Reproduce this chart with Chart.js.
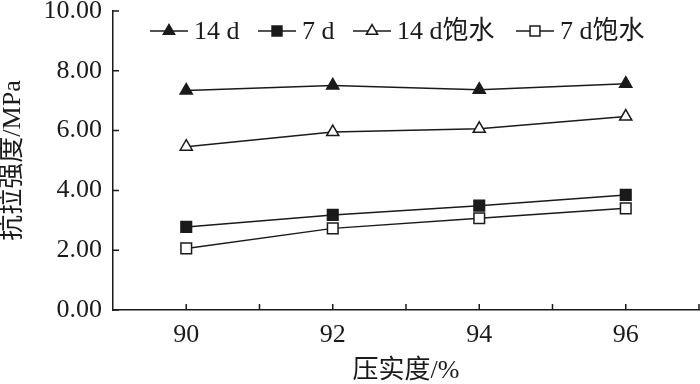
<!DOCTYPE html>
<html>
<head>
<meta charset="utf-8">
<script src="https://cdn.jsdelivr.net/npm/chart.js@4.4.0/dist/chart.umd.min.js"></script>
<style>
  html, body { margin: 0; padding: 0; background: #fff; }
  #wrap { width: 700px; height: 384px; }
</style>
</head>
<body>
<div id="wrap"><canvas id="chart"></canvas></div>
<script>
// 压实度 / 抗拉强度
const compaction = [90, 92, 94, 96];
const strength14d = [7.34, 7.51, 7.37, 7.57];
const strength7d = [2.78, 3.18, 3.49, 3.85];
const strength14dSat = [5.46, 5.95, 6.06, 6.47];
const strength7dSat = [2.06, 2.73, 3.07, 3.40];
const xLabels = [90, 92, 94, 96];

const ink = '#1a1a1a';
const fontFamily = "'Liberation Serif', 'Times New Roman', 'Noto Sans CJK SC', serif";

function points(values) {
  return compaction.map(function(x, i) { return { x: x, y: values[i] }; });
}

function series(label, values, style, filled) {
  return {
    label: label,
    data: points(values),
    borderColor: ink,
    borderWidth: 1.5,
    pointStyle: style,
    pointRadius: style === 'triangle' ? 7 : 7.5,
    pointBorderWidth: 1.5,
    pointBorderColor: ink,
    pointBackgroundColor: filled ? ink : '#fff',
    fill: false,
    tension: 0
  };
}

// legend drawn inside the plot, line + marker like the original
const legendX = [150, 258, 353, 516];
const innerLegend = {
  id: 'innerLegend',
  afterDraw(chart) {
    const ctx = chart.ctx;
    const y = 31;
    ctx.save();
    ctx.font = '26px ' + fontFamily;
    ctx.textBaseline = 'middle';
    chart.data.datasets.forEach(function(ds, i) {
      const x0 = legendX[i];
      ctx.strokeStyle = ink;
      ctx.lineWidth = 1.5;
      ctx.beginPath();
      ctx.moveTo(x0, y);
      ctx.lineTo(x0 + 38, y);
      ctx.stroke();
      ctx.fillStyle = ds.pointBackgroundColor;
      Chart.helpers.drawPoint(ctx, {
        pointStyle: ds.pointStyle,
        radius: ds.pointStyle === 'triangle' ? 6.5 : 7,
        rotation: 0,
        borderWidth: 1.5
      }, x0 + 19, y);
      ctx.fillStyle = ink;
      ctx.fillText(ds.label, x0 + 44, y + 1);
    });
    ctx.restore();
  }
};

// tick marks pointing into the plot
const innerTicks = {
  id: 'innerTicks',
  afterDraw(chart) {
    const ctx = chart.ctx;
    const xs = chart.scales.x, ys = chart.scales.y;
    ctx.save();
    ctx.strokeStyle = ink;
    ctx.lineWidth = 1.5;
    ctx.beginPath();
    xs.ticks.forEach(function(t) {
      if (t.value <= xs.min) return;
      const px = xs.getPixelForValue(t.value);
      ctx.moveTo(px, xs.top);
      ctx.lineTo(px, xs.top - 6);
    });
    ys.ticks.forEach(function(t) {
      const py = ys.getPixelForValue(t.value);
      ctx.moveTo(ys.right, py);
      ctx.lineTo(ys.right + 6, py);
    });
    ctx.stroke();
    ctx.restore();
  }
};

const ctx = document.getElementById('chart').getContext('2d');
new Chart(ctx, {
  type: 'line',
  data: {
    datasets: [
      series('14 d', strength14d, 'triangle', true),
      series('7 d', strength7d, 'rect', true),
      series('14 d饱水', strength14dSat, 'triangle', false),
      series('7 d饱水', strength7dSat, 'rect', false)
    ]
  },
  options: {
    responsive: true,
    maintainAspectRatio: false,
    animation: false,
    layout: { autoPadding: false, padding: { top: 11, right: 1, left: 0, bottom: 0 } },
    scales: {
      x: {
        type: 'linear',
        min: 89,
        max: 97,
        afterFit: function(scale) {
          scale.height = 74;
        },
        grid: {
          display: true,
          drawOnChartArea: false,
          drawTicks: true,
          tickLength: 10,
          tickColor: 'rgba(0,0,0,0)'
        },
        border: { display: true, color: ink, width: 1.5 },
        ticks: {
          stepSize: 1,
          autoSkip: false,
          maxRotation: 0,
          padding: 0,
          color: ink,
          font: { family: fontFamily, size: 26 },
          callback: function(value) {
            return xLabels.indexOf(value) >= 0 ? String(value) : '';
          }
        },
        title: {
          display: true,
          text: '压实度/%',
          color: ink,
          font: { family: fontFamily, size: 26, lineHeight: 1 },
          padding: { top: 9, bottom: 0 }
        }
      },
      y: {
        min: 0,
        max: 10,
        afterFit: function(scale) {
          scale.width = 113;
          scale.paddingTop = 0;
          scale.paddingBottom = 0;
        },
        grid: { display: true, drawOnChartArea: false, drawTicks: false },
        border: { display: true, color: ink, width: 1.5 },
        ticks: {
          stepSize: 2,
          padding: 11,
          color: ink,
          font: { family: fontFamily, size: 26 },
          callback: function(value) { return value.toFixed(2); }
        },
        title: {
          display: true,
          text: '抗拉强度/MPa',
          color: ink,
          font: { family: fontFamily, size: 26, lineHeight: 1 },
          padding: { top: 0, bottom: 0 }
        }
      }
    },
    plugins: {
      legend: { display: false },
      tooltip: { enabled: false }
    }
  },
  plugins: [innerLegend, innerTicks]
});
</script>
</body>
</html>
